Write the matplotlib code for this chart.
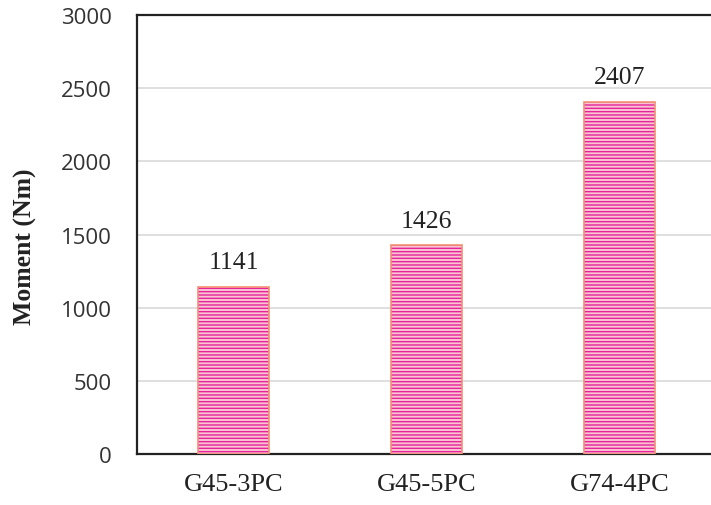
import matplotlib
matplotlib.use("Agg")
import matplotlib.pyplot as plt

categories = ["G45-3PC", "G45-5PC", "G74-4PC"]
moments = [1141, 1426, 2407]
y_ticks = [0, 500, 1000, 1500, 2000, 2500, 3000]

plt.rcParams["hatch.linewidth"] = 1.0

fig = plt.figure(figsize=(7.11, 5.06), dpi=100)
W, H = 711, 506
left, right, top, bottom = 137, 716, 16, 455
ax = fig.add_axes([left / W, 1 - bottom / H, (right - left) / W, (bottom - top) / H])

x = range(len(categories))
bar_w = 0.37
# striped fill
ax.bar(x, moments, width=bar_w, color="#FAC3D2", edgecolor="#E4239C",
       hatch="-----", linewidth=0, zorder=3)
# outline
ax.bar(x, moments, width=bar_w, fill=False, edgecolor="#F39073",
       linewidth=1.2, zorder=4)

for xi, v in zip(x, moments):
    ax.annotate(f"{v}", (xi, v), xytext=(0, 13.5), textcoords="offset points",
                ha="center", va="baseline", fontsize=18.5,
                family="Liberation Serif", color="#222222")

ax.set_xlim(-0.5, 2.5)
ax.set_ylim(0, 3000)
ax.set_yticks(y_ticks)
ax.set_xticks(list(x))
ax.set_xticklabels(categories, family="Liberation Serif", fontsize=19,
                   color="#222222")
for lab in ax.get_yticklabels():
    lab.set_family("Open Sans")
    lab.set_fontsize(16)
    lab.set_color("#333333")
ax.tick_params(axis="both", length=0)
ax.tick_params(axis="x", pad=14)
ax.tick_params(axis="y", pad=18)

ax.yaxis.grid(True, color="#D9D9D9", linewidth=1.2, zorder=0)
ax.set_axisbelow(True)
for s in ["left", "top", "bottom", "right"]:
    ax.spines[s].set_color("#222222")
    ax.spines[s].set_linewidth(1.6)

fig.text(25 / W, 1 - 247 / H, "Moment (Nm)", rotation=90, ha="center",
         va="center", family="Liberation Serif", fontweight="bold",
         fontsize=18.5, color="#222222")

fig.savefig("out.png", dpi=100)
